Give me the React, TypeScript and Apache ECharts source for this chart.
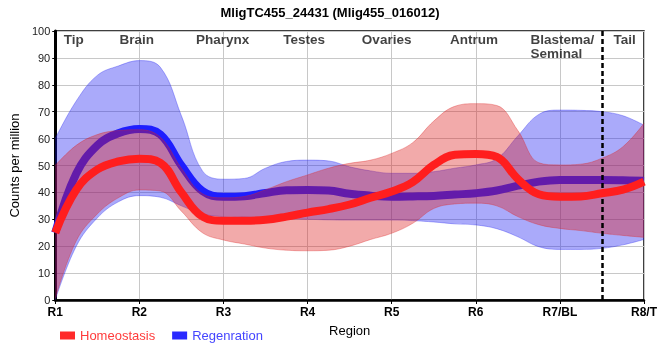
import React, { useEffect, useRef } from 'react';
import * as echarts from 'echarts';

// x positions (region index, quarter steps)
const xs = [0, 0.25, 0.5, 0.75, 1, 1.25, 1.5, 1.75, 2, 2.25, 2.5, 2.75, 3, 3.25, 3.5, 3.75, 4, 4.25, 4.5, 4.75, 5, 5.25, 5.5, 5.75, 6, 6.25, 6.5, 6.75, 7];

const homeMean = [25, 41, 48.5, 51.5, 52.5, 51, 40, 31, 29.5, 29.5, 29.8, 31, 32.5, 33.8, 35.5, 38, 40.3, 43.8, 50.2, 54, 54.3, 53.2, 45, 39.3, 38.4, 38.5, 39.7, 41, 44];
const homeUpper = [50, 57.5, 61.5, 63, 63.3, 60.5, 49, 39.5, 38, 38.5, 41, 44, 46.5, 49, 50.8, 52, 54.5, 58.5, 66.5, 72, 73, 72.3, 63, 51, 50.2, 50.5, 52.7, 57, 65.7];
const homeLower = [0.5, 22, 32, 38, 40.9, 40.5, 33, 25, 22.3, 20.8, 19.3, 18.5, 18.3, 18.5, 20, 22.5, 24.8, 28.5, 34, 35.7, 36, 35, 31, 28, 26.6, 25.8, 24.8, 24, 23.3];

const regenMean = [25, 47, 57.5, 62, 63.6, 61.5, 50, 40.5, 38.4, 38.6, 39.8, 40.8, 40.9, 40.7, 39.5, 38.8, 38.4, 38.5, 38.7, 39.2, 39.7, 40.7, 42.5, 44, 44.6, 44.6, 44.6, 44.5, 44.3];
const regenUpper = [60, 74, 83.5, 87, 89, 86.5, 68.5, 48, 44.9, 45.2, 49, 51.5, 52, 51.7, 49.5, 48, 47.1, 47.1, 47.7, 49, 50.2, 52.5, 61, 69, 70.6, 70.5, 70, 68.5, 65];
const regenLower = [0, 20, 30.5, 36.5, 38.8, 38.2, 35, 32, 31, 30.8, 30.5, 30.2, 30, 29.8, 29.7, 29.7, 29.7, 29.5, 29, 28.3, 27.9, 26.5, 23.5, 19.8, 18.8, 18.8, 19.2, 20.5, 22.5];

const tickLabels = ['R1', 'R2', 'R3', 'R4', 'R5', 'R6', 'R7/BL', 'R8/T'];
const regionNames = ['Tip', 'Brain', 'Pharynx', 'Testes', 'Ovaries', 'Antrum', 'Blastema/\nSeminal', 'Tail'];
const regionX = [0.22, 0.97, 1.99, 2.96, 3.94, 4.98, 5.65, 6.77];
const regionY = [96.7, 96.7, 96.7, 96.7, 96.7, 96.7, 94.1, 96.7];
const dividerX = 6.5;

export default function App() {
  const ref = useRef<HTMLDivElement>(null);
  useEffect(() => {
    const chart = echarts.init(ref.current!, null, { renderer: 'svg' });
    const cats = xs.map((x) => String(x));
    const diff = (u: number[], l: number[]) => u.map((v, i) => +(v - l[i]).toFixed(3));
    const blueBand = 'rgba(20,20,240,0.36)';
    const redBand = 'rgba(220,25,25,0.37)';
    const smooth = 0.4;
    const bandSeries = (name: string, stack: string, lower: number[], upper: number[], fill: string, edge: string, z: number) => [
      {
        name: name + 'Low', type: 'line', stack, data: lower, smooth, symbol: 'none', silent: true, z,
        lineStyle: { width: 1, color: edge },
      },
      {
        name: name + 'Band', type: 'line', stack, data: diff(upper, lower), smooth, symbol: 'none', silent: true, z,
        lineStyle: { width: 1, color: edge },
        areaStyle: { color: fill, opacity: 1 },
      },
    ];
    const tickAt = (i: number) => xs[i] % 1 === 0;
    const option: any = {
      animation: false,
      textStyle: { fontFamily: 'Liberation Sans, Arial, sans-serif' },
      title: {
        text: 'MligTC455_24431 (Mlig455_016012)', left: 'center', top: 1,
        textStyle: { fontSize: 13, fontWeight: 'bold', color: '#000' },
      },
      legend: {
        left: 55, top: 324, itemWidth: 15, itemHeight: 8, itemGap: 17, icon: 'rect',
        textStyle: { fontSize: 13 },
        data: [
          { name: 'Homeostasis', textStyle: { color: '#ff3b3b' } },
          { name: 'Regenration', textStyle: { color: '#4545ff' } },
        ],
      },
      grid: { left: 50, right: 10, top: 31, bottom: 60, show: true, borderColor: '#000', borderWidth: 1.5 },
      xAxis: [
        {
          type: 'category', data: cats, boundaryGap: false,
          name: 'Region', nameLocation: 'middle', nameGap: 24,
          nameTextStyle: { fontSize: 13, color: '#000' },
          axisLine: { show: true, lineStyle: { color: '#000', width: 2.5 } },
          axisTick: { show: true, length: 4, interval: (i: number) => tickAt(i), lineStyle: { color: '#000' } },
          axisLabel: {
            interval: (i: number) => tickAt(i),
            formatter: (v: string) => tickLabels[Number(v)] ?? '',
            fontSize: 12, fontWeight: 'bold', color: '#000', margin: 6,
          },
          splitLine: { show: true, interval: (i: number) => tickAt(i), lineStyle: { color: '#c8c8c8' } },
        },
        { type: 'value', min: 0, max: 7, show: false },
      ],
      yAxis: {
        type: 'value', min: 0, max: 100, interval: 10,
        name: 'Counts per million', nameLocation: 'middle', nameGap: 33,
        nameTextStyle: { fontSize: 13, color: '#000' },
        axisLine: { show: true, lineStyle: { color: '#000', width: 3 } },
        axisTick: { show: true, length: 3, lineStyle: { color: '#000' } },
        axisLabel: { fontSize: 11, color: '#222', margin: 5 },
        splitLine: { show: true, lineStyle: { color: '#c8c8c8' } },
      },
      series: [
        ...bandSeries('r', 'R', regenLower, regenUpper, blueBand, 'rgba(40,40,240,0.35)', 2),
        {
          name: 'Regenration', type: 'line', data: regenMean, smooth, symbol: 'none', z: 3,
          itemStyle: { color: '#2a2aff' },
          lineStyle: { width: 8, color: '#1e1eff' },
        },
        ...bandSeries('h', 'H', homeLower, homeUpper, redBand, 'rgba(220,40,40,0.35)', 4),
        {
          name: 'Homeostasis', type: 'line', data: homeMean, smooth, symbol: 'none', z: 5,
          itemStyle: { color: '#ff2a2a' },
          lineStyle: { width: 8, color: '#ff1e1e' },
        },
        {
          name: 'regions', type: 'scatter', xAxisIndex: 1, symbolSize: 0, silent: true, z: 10,
          data: regionNames.map((n, i) => ({
            value: [regionX[i], regionY[i]],
            label: {
              show: true, position: 'inside', formatter: n,
              align: i === 6 ? 'left' : 'center',
              fontSize: 13.5, fontWeight: 'bold', color: '#111', lineHeight: 14,
            },
          })),
          markLine: {
            silent: true, symbol: ['none', 'none'], label: { show: false },
            lineStyle: { type: [5, 3], color: '#000', width: 2.5 },
            data: [{ xAxis: dividerX }],
          },
        },
      ],
    };
    chart.setOption(option);
    return () => chart.dispose();
  }, []);
  return <div ref={ref} style={{ position: 'fixed', left: 0, top: 0, width: 660, height: 360 }} />;
}
